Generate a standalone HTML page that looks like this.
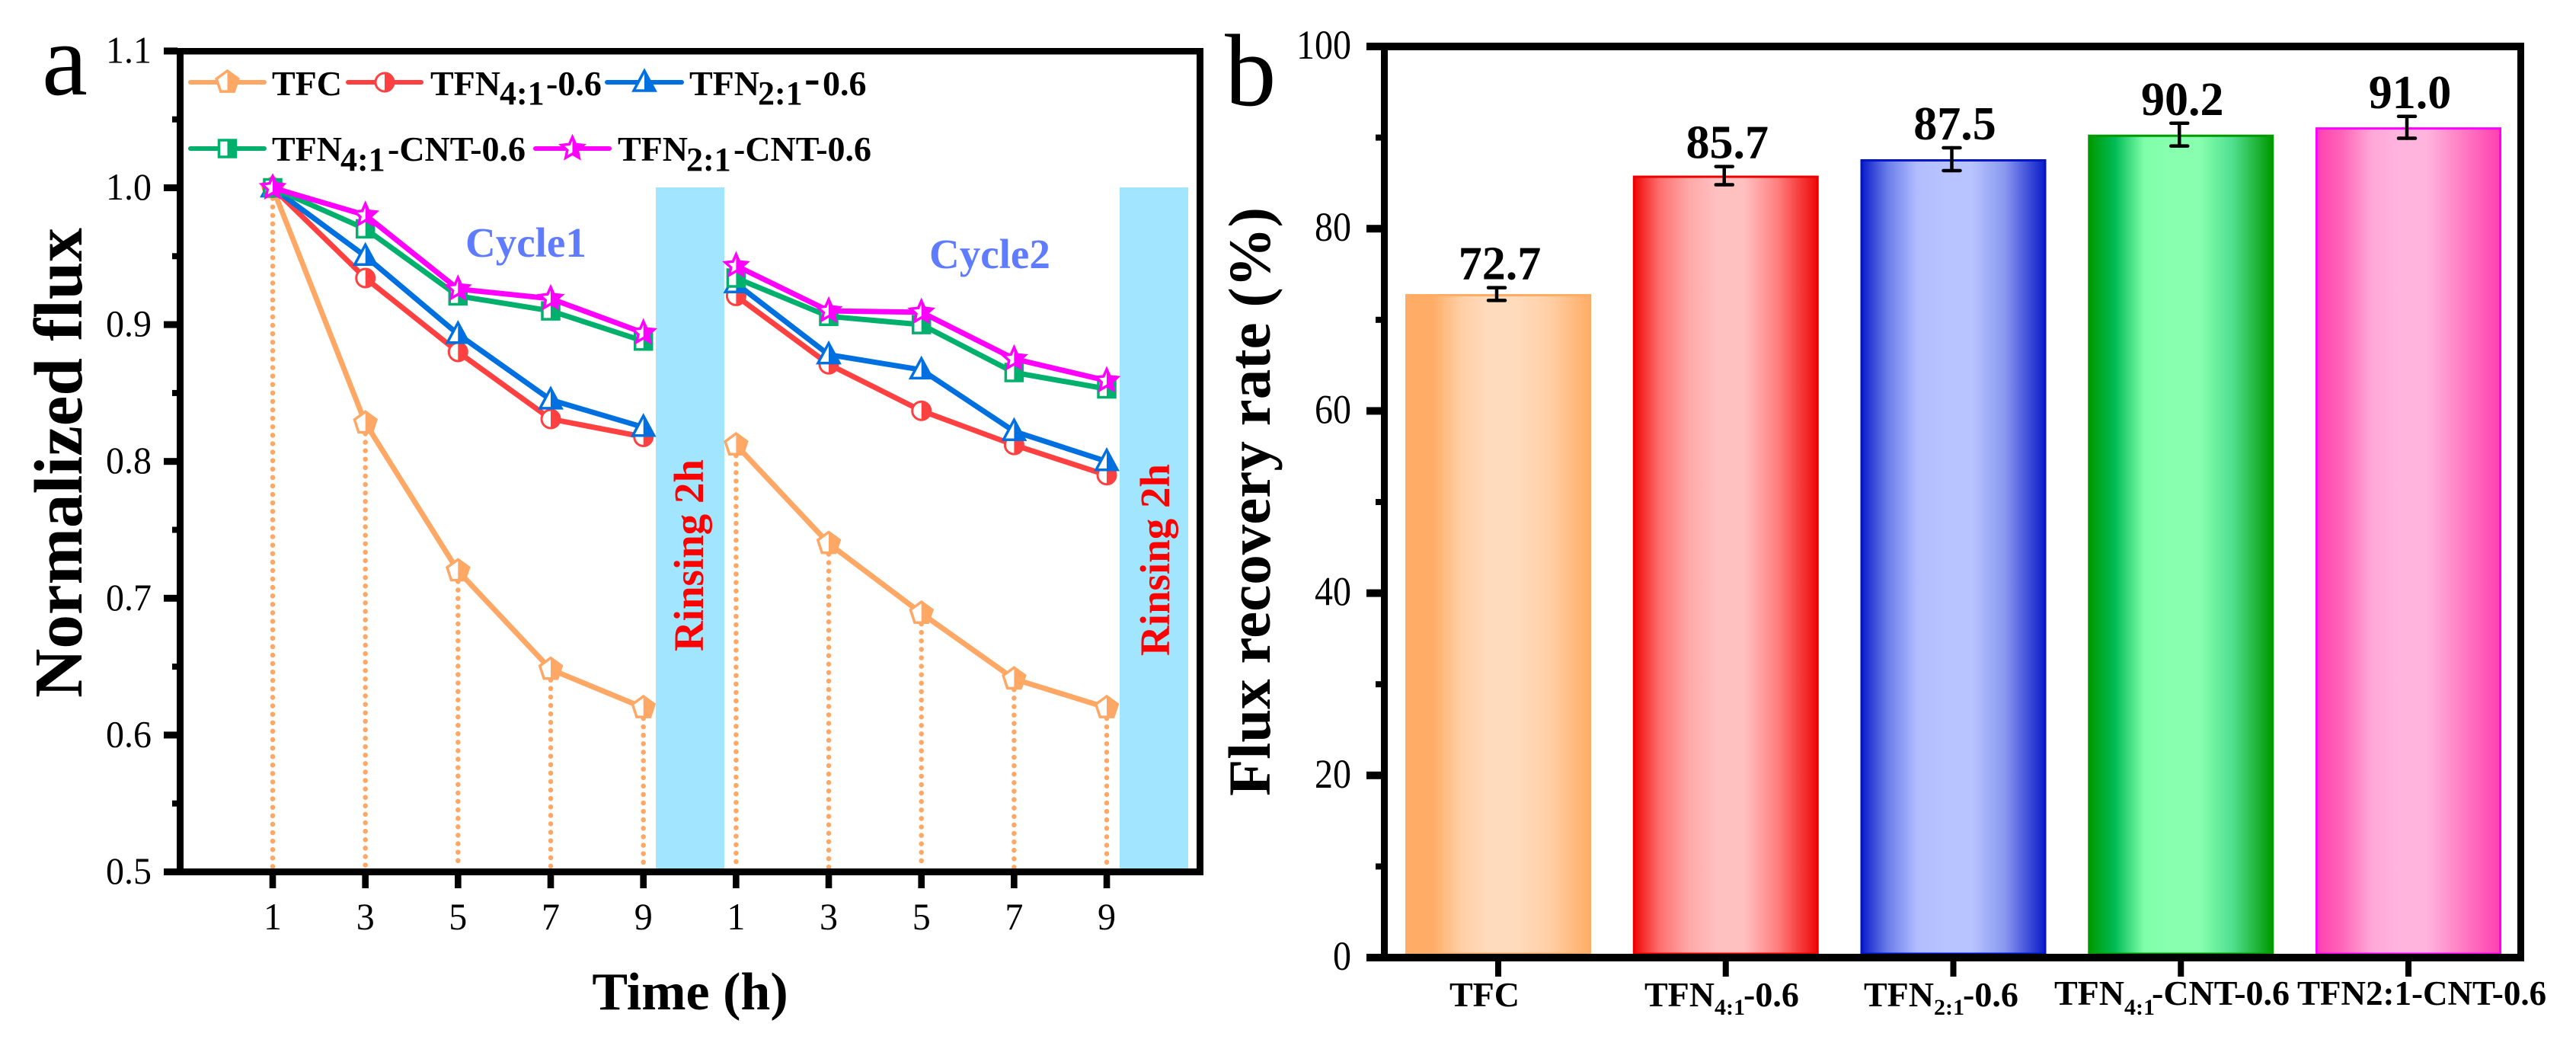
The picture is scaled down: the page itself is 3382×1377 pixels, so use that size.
<!DOCTYPE html>
<html lang="en">
<head>
<meta charset="utf-8">
<title>Normalized flux and flux recovery rate</title>
<style>
html,body{margin:0;padding:0;background:#fff;}
svg{display:block;}
text{font-family:"Liberation Serif","Times New Roman",serif;fill:#000;}
.b{font-weight:bold;}
</style>
</head>
<body>
<svg id="chart" xmlns="http://www.w3.org/2000/svg" width="3382" height="1377" viewBox="0 0 3382 1377">
  <defs>
    <clipPath id="right-half"><rect x="0" y="-40" width="40" height="80"/></clipPath>
  </defs>
  <rect x="0" y="0" width="3382" height="1377" fill="#fff"/>

  <text x="55" y="124" font-size="135">a</text>
  <text x="1608" y="138" font-size="135">b</text>

  <g id="panel-a"></g>
  <g id="panel-b"></g>

  <text class="b" font-size="90" textLength="617" lengthAdjust="spacingAndGlyphs" transform="translate(107,916) rotate(-90)">Normalized flux</text>
  <text class="b" font-size="70" text-anchor="middle" x="906" y="1325">Time (h)</text>
  <text class="b" font-size="78" textLength="773" lengthAdjust="spacingAndGlyphs" transform="translate(1667,1045) rotate(-90)">Flux recovery rate (%)</text>

  <text class="b" font-size="55" x="611" y="337" style="fill:#5F7BFF">Cycle1</text>
  <text class="b" font-size="55" x="1220" y="352" style="fill:#5F7BFF">Cycle2</text>
  <text class="b" font-size="55" textLength="252" lengthAdjust="spacingAndGlyphs" transform="translate(923,855) rotate(-90)" style="fill:#FF0000">Rinsing 2h</text>
  <text class="b" font-size="55" textLength="252" lengthAdjust="spacingAndGlyphs" transform="translate(1535,861) rotate(-90)" style="fill:#FF0000">Rinsing 2h</text>

  <g class="b" font-size="46">
    <text class="b" x="357" y="125">TFC</text>
    <text class="b"><tspan x="565" y="125">TFN</tspan><tspan x="656" y="137" font-size="44">4:1</tspan><tspan x="717" y="125">-0.6</tspan></text>
    <text class="b"><tspan x="905" y="125">TFN</tspan><tspan x="995" y="137" font-size="44">2:1</tspan><tspan x="1056" y="123" font-size="62">-</tspan><tspan x="1080" y="125">0.6</tspan></text>
    <text class="b"><tspan x="357" y="211">TFN</tspan><tspan x="447" y="224" font-size="44">4:1</tspan><tspan x="509" y="211">-CNT-0.6</tspan></text>
    <text class="b"><tspan x="811" y="211">TFN</tspan><tspan x="901" y="224" font-size="44">2:1</tspan><tspan x="963" y="211">-CNT-0.6</tspan></text>
  </g>

  <g class="b" font-size="46">
    <text class="b" x="1903" y="1321">TFC</text>
    <text class="b"><tspan x="2159" y="1321">TFN</tspan><tspan x="2251" y="1332" font-size="30">4:1</tspan><tspan x="2289" y="1321">-0.6</tspan></text>
    <text class="b"><tspan x="2447" y="1321">TFN</tspan><tspan x="2539" y="1332" font-size="30">2:1</tspan><tspan x="2577" y="1321">-0.6</tspan></text>
    <text class="b"><tspan x="2697" y="1319">TFN</tspan><tspan x="2789" y="1332" font-size="30">4:1</tspan><tspan x="2825" y="1319">-CNT-0.6</tspan></text>
    <text class="b" font-size="45" x="3016" y="1319">TFN2:1-CNT-0.6</text>
  </g>
</svg>

<script>
// Panel a data
const timeLabels = ['1', '3', '5', '7', '9', '1', '3', '5', '7', '9'];
const fluxTicks = [0.5, 0.6, 0.7, 0.8, 0.9, 1.0, 1.1];
const fluxTickLabels = ['0.5', '0.6', '0.7', '0.8', '0.9', '1.0', '1.1'];
const fluxMinorTicks = [0.55, 0.65, 0.75, 0.85, 0.95, 1.05];
const tfcFlux = [1.0, 0.828, 0.72, 0.648, 0.62, 0.812, 0.74, 0.689, 0.641, 0.62];
const tfn41Flux = [1.0, 0.934, 0.88, 0.831, 0.818, 0.921, 0.871, 0.837, 0.812, 0.79];
const tfn21Flux = [1.0, 0.95, 0.893, 0.845, 0.825, 0.93, 0.878, 0.867, 0.822, 0.8];
const tfn41CntFlux = [1.0, 0.97, 0.921, 0.91, 0.888, 0.934, 0.906, 0.9, 0.865, 0.853];
const tfn21CntFlux = [1.0, 0.98, 0.926, 0.919, 0.894, 0.943, 0.91, 0.909, 0.875, 0.859];

// Panel b data
const recoveryCategories = ['tfc', 'tfn41', 'tfn21', 'tfn41-cnt', 'tfn21-cnt'];
const recoveryRates = [72.7, 85.7, 87.5, 90.2, 91.0];
const recoveryLabels = ['72.7', '85.7', '87.5', '90.2', '91.0'];
const recoveryErrors = [0.7, 1.0, 1.25, 1.25, 1.2];
const recoveryTicks = [0, 20, 40, 60, 80, 100];
const recoveryMinorTicks = [10, 30, 50, 70, 90];

const NS = 'http://www.w3.org/2000/svg';
function mk(parent, tag, attrs, txt) {
  const el = document.createElementNS(NS, tag);
  for (const k in attrs) el.setAttribute(k, attrs[k]);
  if (txt !== undefined) el.textContent = txt;
  parent.appendChild(el);
  return el;
}
const svg = document.getElementById('chart');
const pa = document.getElementById('panel-a');
const pb = document.getElementById('panel-b');

// Axis functions
const xA = i => 358 + i * 121.67;
const yA = v => 1144.5 - (v - 0.5) * 1796;
const xB = i => 1967 + i * 298.75;
const yB = v => 1255.5 - v * 11.96;

// Marker shapes
function poly(n, r, rot, r2) {
  const pts = [];
  const total = r2 ? n * 2 : n;
  for (let i = 0; i < total; i++) {
    const rad = r2 && i % 2 ? r2 : r;
    const a = rot + i * 2 * Math.PI / total;
    pts.push((rad * Math.cos(a)).toFixed(1) + ',' + (rad * Math.sin(a)).toFixed(1));
  }
  return pts.join(' ');
}
const up = -Math.PI / 2;
const shapes = {
  pentagon: { tag: 'polygon', attrs: { points: poly(5, 15, up) }, sw: 3.5 },
  circle: { tag: 'circle', attrs: { r: 12 }, sw: 3 },
  triangle: { tag: 'polygon', attrs: { points: '0,-15 14,11 -14,11' }, sw: 3.5 },
  square: { tag: 'rect', attrs: { x: -11, y: -11, width: 22, height: 22 }, sw: 3.5 },
  star: { tag: 'polygon', attrs: { points: poly(5, 15, up, 7) }, sw: 3.5 }
};
function marker(parent, kind, color, x, y) {
  const s = shapes[kind];
  const g = mk(parent, 'g', { transform: 'translate(' + x.toFixed(1) + ',' + y.toFixed(1) + ')' });
  mk(g, s.tag, Object.assign({ fill: '#fff', stroke: color, 'stroke-width': s.sw, 'stroke-linejoin': 'miter' }, s.attrs));
  mk(g, s.tag, Object.assign({ fill: color, 'clip-path': 'url(#right-half)' }, s.attrs));
  return g;
}

// Rinsing bands
const bandA = mk(pa, 'rect', { x: 861, y: 246, width: 90, height: 895, fill: '#A2E5FF' });


const bandB = mk(pa, 'rect', { x: 1470, y: 246, width: 90, height: 895, fill: '#A2E5FF' });



// Drop lines from TFC
tfcFlux.forEach((v, i) => {
  const l = mk(pa, 'line', {
    x1: xA(i), x2: xA(i), y1: yA(v) + 14, y2: 1140,
    stroke: '#FFA866', 'stroke-width': 6.5, 'stroke-linecap': 'round', 'stroke-dasharray': '0.1 11'
  });
  
  
});

// Series
const seriesDraw = [
  { key: 'tfc', vals: tfcFlux, color: '#FFA866', kind: 'pentagon' },
  { key: 'tfn41', vals: tfn41Flux, color: '#FF4040', kind: 'circle' },
  { key: 'tfn21', vals: tfn21Flux, color: '#0070E0', kind: 'triangle' },
  { key: 'tfn41-cnt', vals: tfn41CntFlux, color: '#00B06C', kind: 'square' },
  { key: 'tfn21-cnt', vals: tfn21CntFlux, color: '#FF00FF', kind: 'star' }
];
seriesDraw.forEach(s => {
  const g = mk(pa, 'g', {});
  
  
  [[0, 5], [5, 10]].forEach(r => {
    const pts = [];
    for (let i = r[0]; i < r[1]; i++) pts.push(xA(i).toFixed(1) + ',' + yA(s.vals[i]).toFixed(1));
    const pl = mk(g, 'polyline', { points: pts.join(' '), fill: 'none', stroke: s.color, 'stroke-width': 7, 'stroke-linejoin': 'round' });
    
    
  });
  s.vals.forEach((v, i) => {
    const m = marker(g, s.kind, s.color, xA(i), yA(v));
    
    
  });
});

// Panel a axes
const frameA = mk(pa, 'g', {});


mk(frameA, 'rect', { x: 232, y: 63, width: 9, height: 1086, fill: '#000' });
mk(frameA, 'rect', { x: 1571, y: 63, width: 9, height: 1086, fill: '#000' });
mk(frameA, 'rect', { x: 215, y: 63, width: 1365, height: 8.5, fill: '#000' });
mk(frameA, 'rect', { x: 215, y: 1140, width: 1365, height: 9, fill: '#000' });
fluxTicks.forEach((v, i) => {
  const t = mk(pa, 'rect', { x: 215, y: yA(v) - 4.5, width: 18, height: 9, fill: '#000' });
  
  
  const lb = mk(pa, 'text', { 'text-anchor': 'end', 'font-size': 48, transform: 'translate(199,' + (yA(v) + 15.5) + ') scale(1,1.04)' }, fluxTickLabels[i]);
  
  
});
fluxMinorTicks.forEach(v => {
  const t = mk(pa, 'rect', { x: 226, y: yA(v) - 4, width: 7, height: 8, fill: '#000' });
  
  
});
timeLabels.forEach((lab, i) => {
  const t = mk(pa, 'rect', { x: xA(i) - 4.3, y: 1149, width: 8.6, height: 17, fill: '#000' });
  
  
  const lb = mk(pa, 'text', { 'text-anchor': 'middle', 'font-size': 48, transform: 'translate(' + xA(i).toFixed(1) + ',1220) scale(1,1.04)' }, lab);
  
  
});

// Legend lines and markers
const legendSpec = [
  { key: 'tfc', x1: 250, x2: 347, y: 108, color: '#FFA866', kind: 'pentagon' },
  { key: 'tfn41', x1: 457, x2: 553, y: 108, color: '#FF4040', kind: 'circle' },
  { key: 'tfn21', x1: 797, x2: 895, y: 108, color: '#0070E0', kind: 'triangle' },
  { key: 'tfn41-cnt', x1: 250, x2: 347, y: 195, color: '#00B06C', kind: 'square' },
  { key: 'tfn21-cnt', x1: 703, x2: 800, y: 195, color: '#FF00FF', kind: 'star' }
];
legendSpec.forEach(e => {
  const g = mk(pa, 'g', {});
  
  
  mk(g, 'line', { x1: e.x1, x2: e.x2, y1: e.y, y2: e.y, stroke: e.color, 'stroke-width': 6, 'stroke-linecap': 'round' });
  marker(g, e.kind, e.color, (e.x1 + e.x2) / 2, e.y);
});

// Panel b gradients
const barGradients = [
  ['#FFAD66', '#FFAD66', '#FFCFA6', '#FFDBBD', '#FFDBBD', '#FFCFA6', '#FFAD66'],
  ['#EE0808', '#FF7070', '#FFA8A8', '#FFC0C0', '#FFC0C0', '#FF8080', '#EE0808'],
  ['#0A1CC8', '#6A7CE8', '#B0BCFF', '#B8C4FF', '#B8C4FF', '#8A98F0', '#0A1CC8'],
  ['#009900', '#00BB55', '#80FFAA', '#88FFAF', '#88FFAF', '#50E090', '#009900'],
  ['#FF40B0', '#FF66B8', '#FFA8D8', '#FFB4DE', '#FFB4DE', '#FF80C4', '#FF40B0']
];
const barStrokes = ['#FFAD66', '#EE0000', '#0014C8', '#009900', '#FF00FF'];
const stopOffsets = [0, 0.14, 0.3, 0.45, 0.6, 0.78, 1];
const defs = svg.querySelector('defs');
recoveryRates.forEach((v, i) => {
  const grad = mk(defs, 'linearGradient', { id: 'bar-grad-' + i, x1: 0, x2: 1, y1: 0, y2: 0 });
  barGradients[i].forEach((c, j) => mk(grad, 'stop', { offset: stopOffsets[j], 'stop-color': c }));
  const x = xB(i) - 120.5;
  const top = yB(v);
  const bar = mk(pb, 'rect', {
    x: x, y: top + 1.5, width: 241, height: 1252 - top - 1.5,
    fill: 'url(#bar-grad-' + i + ')', stroke: barStrokes[i], 'stroke-width': 3
  });
  
  

  const e = recoveryErrors[i];
  const cx = xB(i) - 2;
  const eb = mk(pb, 'g', { stroke: '#000', 'stroke-width': 4.5, 'stroke-linecap': 'round' });
  
  
  mk(eb, 'line', { x1: cx, x2: cx, y1: yB(v + e), y2: yB(v - e) });
  mk(eb, 'line', { x1: cx - 11, x2: cx + 11, y1: yB(v + e), y2: yB(v + e) });
  mk(eb, 'line', { x1: cx - 11, x2: cx + 11, y1: yB(v - e), y2: yB(v - e) });

  const lb = mk(pb, 'text', {
    'text-anchor': 'middle', 'font-size': 62, 'font-weight': 'bold',
    x: xB(i) + 2, y: yB(v + e) - 11
  }, recoveryLabels[i]);
  
  

  const t = mk(pb, 'rect', { x: xB(i) - 4, y: 1262, width: 8, height: 20, fill: '#000' });
  
  
});

// Panel b axes
const frameB = mk(pb, 'g', {});


mk(frameB, 'rect', { x: 1813, y: 56, width: 9, height: 1206, fill: '#000' });
mk(frameB, 'rect', { x: 3305, y: 56, width: 9, height: 1206, fill: '#000' });
mk(frameB, 'rect', { x: 1794, y: 56, width: 1520, height: 10, fill: '#000' });
mk(frameB, 'rect', { x: 1794, y: 1252, width: 1520, height: 10, fill: '#000' });
const yTickB = v => 1257 - v * 11.96;
recoveryTicks.forEach(v => {
  const t = mk(pb, 'rect', { x: 1794, y: yTickB(v) - 5, width: 20, height: 10, fill: '#000' });
  
  
  const lb = mk(pb, 'text', { 'text-anchor': 'end', 'font-size': 48, transform: 'translate(1774,' + (yTickB(v) + 16) + ') scale(1,1.12)' }, String(v));
  
  
});
recoveryMinorTicks.forEach(v => {
  const t = mk(pb, 'rect', { x: 1806, y: yTickB(v) - 4, width: 8, height: 8, fill: '#000' });
  
  
});
</script>
</body>
</html>
